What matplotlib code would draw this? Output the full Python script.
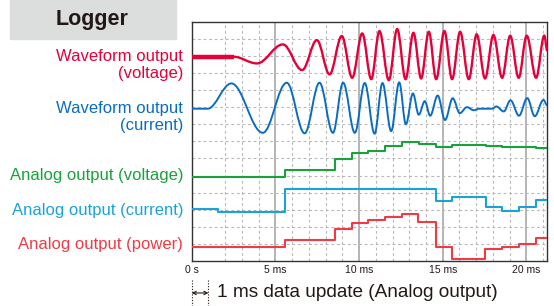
import numpy as np
import matplotlib
matplotlib.use("Agg")
import matplotlib.pyplot as plt
from matplotlib.path import Path
from matplotlib.patches import PathPatch, Rectangle

plt.rcParams['font.family'] = ['Liberation Sans', 'DejaVu Sans']

# Waveform output (voltage): extrema (time ms, level)
volt_t = [0, 2.5, 3.9, 5.45, 6.6, 7.48, 8.24, 8.97, 9.59, 10.19, 10.73, 11.22, 11.78,
          12.28, 12.78, 13.25, 13.71, 14.17, 14.61, 15.10, 15.56, 16.04, 16.56,
          17.03, 17.53, 18.03, 18.55, 19.03, 19.54, 20.02, 20.58, 21.07, 21.25]
volt_y = [11.95, 11.95, 11.56, 12.67, 11.17, 12.92, 10.92, 13.16, 10.72, 13.31, 10.64,
          13.45, 10.58, 13.57, 10.64, 13.35, 10.68, 13.41, 10.64, 13.45, 10.64, 13.41,
          10.64, 13.26, 10.68, 13.22, 10.72, 13.18, 10.72, 13.18, 10.72, 13.18, 12.3]

# Waveform output (current)
curr_t = [0, 0.95, 2.37, 4.25, 5.68, 6.75, 7.64, 8.44, 9.05, 9.75, 10.34, 10.93, 11.4,
          11.92, 12.4, 12.8, 13.22, 13.57, 13.93, 14.25, 14.7, 15.14, 15.6, 16.02,
          16.45, 16.85, 17.2, 17.95, 18.2, 18.65, 19.05, 19.56, 20.05, 20.5, 21.02, 21.25]
curr_y = [8.91, 8.91, 10.39, 7.5, 10.43, 7.47, 10.43, 7.5, 10.43, 7.5, 10.41, 7.45, 10.41,
          7.6, 10.45, 8.0, 9.8, 8.56, 9.35, 8.5, 9.68, 8.25, 9.52, 8.65,
          9.0, 8.82, 8.91, 8.91, 9.04, 8.75, 9.4, 8.5, 9.53, 8.47, 9.42, 9.1]

# Analog outputs (1 ms update, step traces)
av_t = [0, 5.55, 8.55, 9.55, 10.55, 11.58, 12.58, 13.58, 14.58, 15.58, 17.57, 18.57, 20.56, 21.25]
av_y = [4.93, 5.32, 5.95, 6.3, 6.45, 6.73, 6.98, 6.84, 6.68, 6.78, 6.73, 6.65, 6.59, 6.59]

ac_t = [0, 1.57, 5.55, 14.57, 15.56, 17.57, 18.55, 19.55, 20.55, 21.25]
ac_y = [3.02, 2.88, 4.19, 3.53, 3.75, 3.13, 2.92, 3.18, 3.57, 3.57]

ap_t = [0, 5.55, 8.55, 9.55, 10.55, 11.58, 12.58, 13.55, 14.57, 15.56, 17.55, 18.55, 19.55, 20.55, 21.25]
ap_y = [0.84, 1.23, 1.85, 2.2, 2.4, 2.59, 2.77, 2.3, 0.84, 0.14, 0.72, 0.84, 1.0, 1.33, 1.33]

xticks = [0, 5, 10, 15, 20]
xtick_labels = ['0 s', '5 ms', '10 ms', '15 ms', '20 ms']

labels = [('Waveform output\n(voltage)', '#e60039', 65),
          ('Waveform output\n(current)', '#0a6dc2', 117),
          ('Analog output (voltage)', '#18a23a', 175.7),
          ('Analog output (current)', '#19a3d9', 210),
          ('Analog output (power)', '#ef3b45', 244.3)]

W, H = 554, 306
fig = plt.figure(figsize=(W / 100, H / 100), dpi=100)
ax = fig.add_axes([191.7 / W, 1 - 261 / H, (547.3 - 191.7) / W, (261 - 21.7) / H])
ax.set_xlim(0, 21.25)
ax.set_ylim(0, 14)


def smooth_path(t, y):
    # cubic segments with flat tangents at each extremum
    verts = [(t[0], y[0])]
    codes = [Path.MOVETO]
    for i in range(1, len(t)):
        d = (t[i] - t[i - 1]) * 0.364
        verts += [(t[i - 1] + d, y[i - 1]), (t[i] - d, y[i]), (t[i], y[i])]
        codes += [Path.CURVE4] * 3
    return Path(verts, codes)


# grid
for m in range(2, 22):
    if m % 5 == 0:
        ax.axvline(m, color='#a8a8a8', lw=1.2, zorder=1)
    else:
        ax.axvline(m, color='#b8b8b8', lw=0.8, ls=(0, (2.5, 2.5)), zorder=1)
for k in range(1, 14):
    ax.axhline(k, color='#b8b8b8', lw=0.8, ls=(0, (2.5, 2.5)), zorder=1)

# waveforms
ax.add_patch(PathPatch(smooth_path(volt_t, volt_y), fill=False, ec='#e60039', lw=1.7, zorder=3))
ax.plot(volt_t[:2], volt_y[:2], color='#e60039', lw=3.2, zorder=3, solid_capstyle='butt')
ax.add_patch(PathPatch(smooth_path(curr_t, curr_y), fill=False, ec='#0a6dc2', lw=1.4, zorder=3))

# analog outputs
ax.plot(av_t, av_y, drawstyle='steps-post', color='#18a23a', lw=1.5, zorder=3)
ax.plot(ac_t, ac_y, drawstyle='steps-post', color='#19a3d9', lw=1.5, zorder=3)
ax.plot(ap_t, ap_y, drawstyle='steps-post', color='#ef3b45', lw=1.5, zorder=3)

ax.set_yticks([])
ax.set_xticks(xticks, xtick_labels)
ax.tick_params(axis='x', length=0, pad=3, labelsize=7.5, labelcolor='#231815')
for s in ax.spines.values():
    s.set_color('#333333')
    s.set_linewidth(1.0)

# 1 ms annotation below the axis
ax.plot([0, 0], [-1.1, -2.7], color='#231815', lw=0.8, ls=(0, (1, 1.5)), clip_on=False)
ax.plot([1, 1], [-1.1, -2.7], color='#231815', lw=0.8, ls=(0, (1, 1.5)), clip_on=False)
ax.annotate('', xy=(0, -1.87), xytext=(1, -1.87), annotation_clip=False,
            arrowprops=dict(arrowstyle='<->', color='#231815', lw=0.8,
                            shrinkA=0, shrinkB=0, mutation_scale=6))
ax.text(1.5, -1.87, '1 ms data update (Analog output)', fontsize=13.7,
        color='#231815', va='center', ha='left', clip_on=False)

# header box
fig.patches.append(Rectangle((10 / W, 1 - 39 / H), 166 / W, 39 / H,
                             transform=fig.transFigure, color='#dcdddd', zorder=0))
fig.text(91.7 / W, 1 - 20 / H, 'Logger', fontsize=15.5, fontweight='bold',
         color='#231815', ha='center', va='center')

for txt, col, py in labels:
    fig.text(183.3 / W, 1 - py / H, txt, fontsize=12, color=col, ha='right',
             va='center', multialignment='right', linespacing=1.15)

fig.savefig('out.png', dpi=100)
